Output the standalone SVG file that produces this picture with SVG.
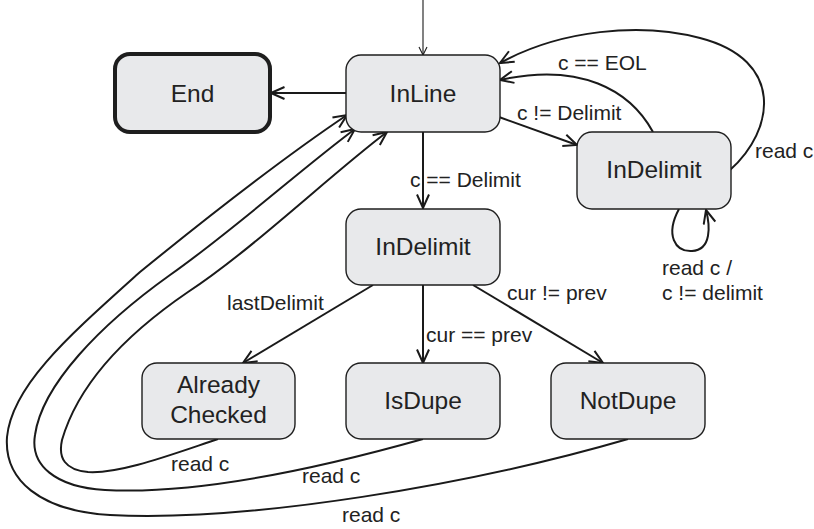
<svg xmlns="http://www.w3.org/2000/svg" width="814" height="529" viewBox="0 0 814 529">
<defs>
<style>
.node{fill:#e8e9eb;stroke:#1e1e1e;stroke-width:1.4}
.end{fill:#e8e9eb;stroke:#1e1e1e;stroke-width:4}
.nt{font-family:"Liberation Sans",Arial,sans-serif;font-size:24.5px;fill:#222;text-anchor:middle}
.lb{font-family:"Liberation Sans",Arial,sans-serif;font-size:21px;fill:#222}
.e{fill:none;stroke:#1a1a1a;stroke-width:2;marker-end:url(#a)}
.e0{fill:none;stroke:#1a1a1a;stroke-width:1.1;marker-end:url(#b)}
</style>
<marker id="a" viewBox="0 0 16 14" refX="14.5" refY="7" markerWidth="16" markerHeight="14" orient="auto" markerUnits="userSpaceOnUse">
<path d="M1,1 L14.5,7 L1,13" fill="none" stroke="#1a1a1a" stroke-width="2"/>
</marker>
<marker id="b" viewBox="0 0 10 10" refX="9" refY="5" markerWidth="10" markerHeight="10" orient="auto" markerUnits="userSpaceOnUse">
<path d="M1,1 L9,5 L1,9" fill="none" stroke="#1a1a1a" stroke-width="1.1"/>
</marker>
</defs>
<rect width="814" height="529" fill="#ffffff"/>

<g id="connectors">
<path class="e0" d="M423,0 L423,55"/>
<path class="e" d="M346,93 L271,93"/>
<path class="e" d="M423,132 L423,208"/>
<path class="e" d="M499,117 L577,145"/>
<path class="e" d="M653,132 C630,90 580,62 500,80"/>
<path class="e" d="M730,170 C775,130 785,60 700,38 C640,22 560,30 500,63"/>
<path class="e" d="M679,209 C665,235 675,252 692,251 C712,250 710,225 706,210"/>
<path class="e" d="M373,285 L243,363"/>
<path class="e" d="M423,285 L423,363"/>
<path class="e" d="M473,285 L603,363"/>
<path class="e" d="M628,439 C470,485 250,522 110,515 C40,511 4,480 7,437 C12,385 70,335 140,272 C210,215 280,160 347,115"/>
<path class="e" d="M423,439 C320,468 200,495 105,490 C55,487 30,465 35,435 C42,385 100,325 170,275 C230,233 300,170 355,129"/>
<path class="e" d="M218,439 C170,455 120,474 88,472 C65,470 58,458 62,440 C78,385 125,335 188,292 C252,250 330,175 387,132"/>
</g>

<g id="labels">
<text class="lb" x="558" y="70">c == EOL</text>
<text class="lb" x="517" y="120">c != Delimit</text>
<text class="lb" x="410" y="187">c == Delimit</text>
<text class="lb" x="755" y="158">read c</text>
<text class="lb" x="662" y="275">read c /</text>
<text class="lb" x="662" y="300">c != delimit</text>
<text class="lb" x="227" y="310">lastDelimit</text>
<text class="lb" x="507" y="300">cur != prev</text>
<text class="lb" x="426" y="342">cur == prev</text>
<text class="lb" x="171" y="471">read c</text>
<text class="lb" x="302" y="483">read c</text>
<text class="lb" x="342" y="522">read c</text>
</g>

<g id="End"><rect class="end" x="115" y="54" width="155" height="78" rx="15"/><text class="nt" x="192.5" y="102">End</text></g>
<g id="InLine"><rect class="node" x="346" y="55" width="154" height="77" rx="15"/><text class="nt" x="423" y="102">InLine</text></g>
<g id="InDelimit1"><rect class="node" x="577" y="132" width="154" height="77" rx="15"/><text class="nt" x="654" y="178">InDelimit</text></g>
<g id="InDelimit2"><rect class="node" x="346" y="209" width="154" height="76" rx="15"/><text class="nt" x="423" y="255">InDelimit</text></g>
<g id="AlreadyChecked"><rect class="node" x="142" y="363" width="153" height="76" rx="15"/><text class="nt" x="218.5" y="393">Already</text><text class="nt" x="218.5" y="423">Checked</text></g>
<g id="IsDupe"><rect class="node" x="346" y="363" width="154" height="76" rx="15"/><text class="nt" x="423" y="409">IsDupe</text></g>
<g id="NotDupe"><rect class="node" x="551" y="363" width="154" height="76" rx="15"/><text class="nt" x="628" y="409">NotDupe</text></g>
</svg>
